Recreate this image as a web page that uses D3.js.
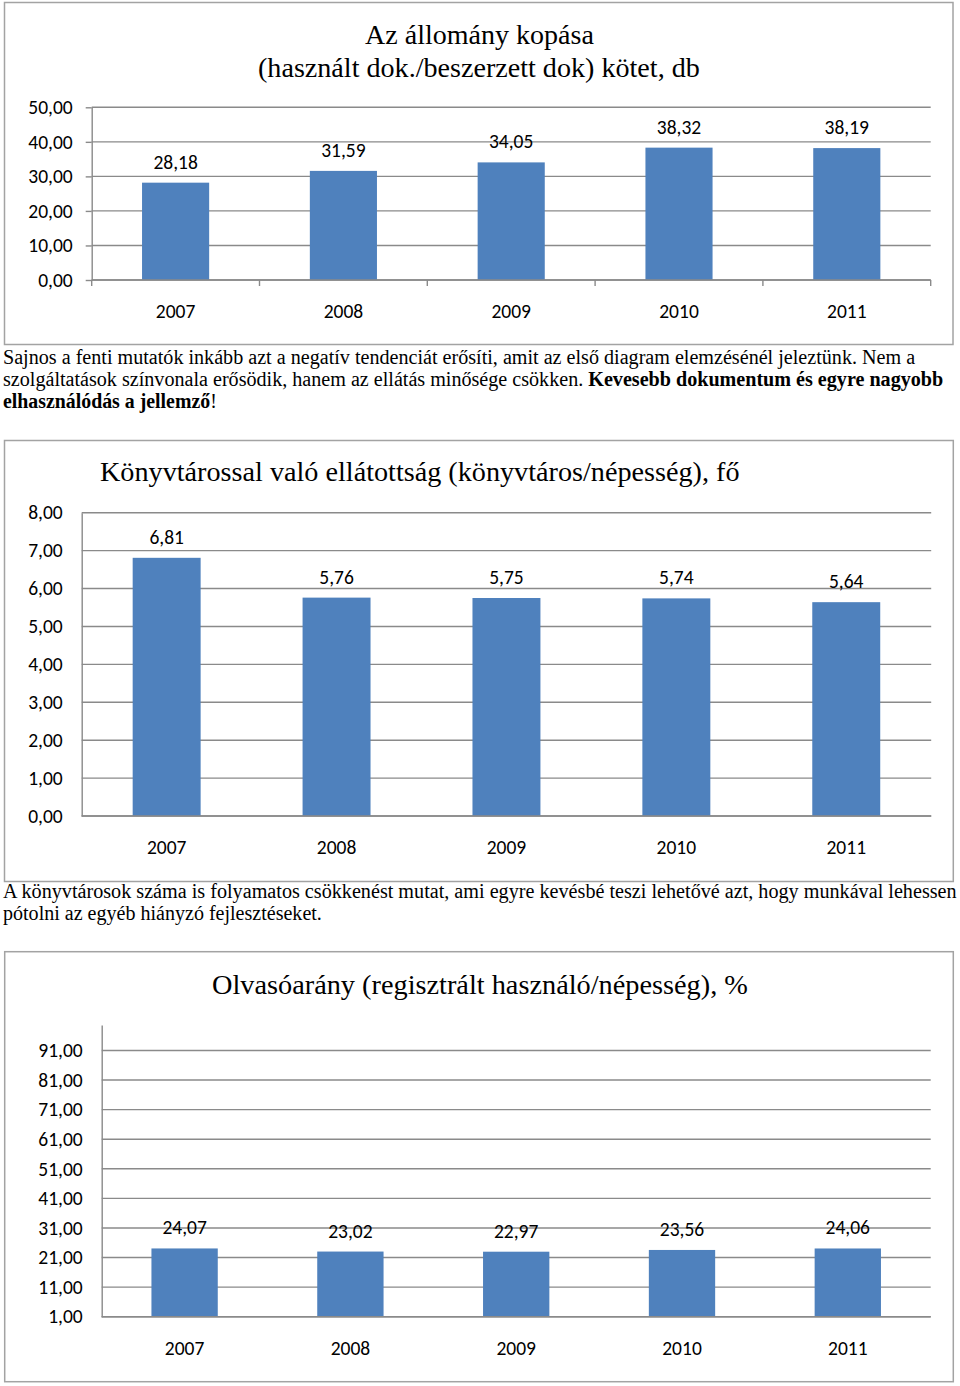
<!DOCTYPE html>
<html>
<head>
<meta charset="utf-8">
<script src="https://cdn.jsdelivr.net/npm/d3@7"></script>
<style>
  html, body { margin: 0; padding: 0; background: #fff; }
  svg { display: block; }
</style>
</head>
<body>
<svg id="page" width="960" height="1386"></svg>
<script>
// ---------- DATA ----------
const years = ["2007", "2008", "2009", "2010", "2011"];
const kopasaValues = [28.18, 31.59, 34.05, 38.32, 38.19];
const ellatottsagValues = [6.81, 5.76, 5.75, 5.74, 5.64];
const olvasoValues = [24.07, 23.02, 22.97, 23.56, 24.06];
const kopasaTicks = [0, 10, 20, 30, 40, 50];
const ellatottsagTicks = [0, 1, 2, 3, 4, 5, 6, 7, 8];
const olvasoTicks = [1, 11, 21, 31, 41, 51, 61, 71, 81, 91];

const title1 = ["Az állomány kopása", "(használt dok./beszerzett dok) kötet, db"];
const title2 = "Könyvtárossal való ellátottság (könyvtáros/népesség), fő";
const title3 = "Olvasóarány (regisztrált használó/népesség), %";

const para1 = [
  [{t: "Sajnos a fenti mutatók inkább azt a negatív tendenciát erősíti, amit az első diagram elemzésénél jeleztünk. Nem a", b: false}],
  [{t: "szolgáltatások színvonala erősödik, hanem az ellátás minősége csökken. ", b: false}, {t: "Kevesebb dokumentum és egyre nagyobb", b: true}],
  [{t: "elhasználódás a jellemző", b: true}, {t: "!", b: false}]
];
const para2 = [
  [{t: "A könyvtárosok száma is folyamatos csökkenést mutat, ami egyre kevésbé teszi lehetővé azt, hogy munkával lehessen", b: false}],
  [{t: "pótolni az egyéb hiányzó fejlesztéseket.", b: false}]
];

// ---------- STYLE ----------
const BAR = "#4F81BD";
const GRID = "#8a8a8a";
const BORDER = "#a3a3a3";
const LABEL_FONT = "Carlito, Lato, sans-serif";
const LABEL_SIZE = 19.5;
const SERIF = "'Liberation Serif', 'Times New Roman', serif";
const huLocale = d3.formatLocale({decimal: ",", thousands: " ", grouping: [3], currency: ["", " Ft"]});
const fmt = huLocale.format(".2f");

const svg = d3.select("#page");

// paragraph line: fixed font size, squeezed horizontally to the target width
function fitLine(parts, x, y, targetW, size) {
  const t = svg.append("text")
    .attr("font-family", SERIF)
    .attr("font-size", size)
    .attr("fill", "#000");
  parts.forEach(p => {
    t.append("tspan").attr("font-weight", p.b ? "bold" : "normal").text(p.t);
  });
  const len = t.node().getComputedTextLength();
  t.attr("transform", `translate(${x},${y}) scale(${targetW / len},1)`);
  return t;
}

// title line: font size chosen so the line spans the target width
function titleLine(str, x, y, targetW) {
  const t = svg.append("text")
    .attr("font-family", SERIF)
    .attr("font-size", 20)
    .attr("fill", "#000")
    .text(str);
  const len = t.node().getComputedTextLength();
  t.attr("font-size", 20 * targetW / len).attr("x", x).attr("y", y);
  return t;
}

function chart(cfg) {
  svg.append("rect")
    .attr("x", cfg.box[0]).attr("y", cfg.box[1])
    .attr("width", cfg.box[2] - cfg.box[0]).attr("height", cfg.box[3] - cfg.box[1])
    .attr("fill", "#fff").attr("stroke", BORDER).attr("stroke-width", 1.5);

  const x = d3.scaleBand().domain(cfg.cats).range([cfg.left, cfg.right]).paddingInner(0).paddingOuter(0);
  const y = d3.scaleLinear().domain(cfg.domain).range([cfg.bottom, cfg.top]);
  const g = svg.append("g");

  // gridlines
  g.append("g").selectAll("line").data(cfg.ticks).join("line")
    .attr("x1", cfg.left).attr("x2", cfg.right)
    .attr("y1", d => y(d)).attr("y2", d => y(d))
    .attr("stroke", GRID).attr("stroke-width", 1.4);

  // y axis
  const yAxis = d3.axisLeft(y).tickValues(cfg.ticks).tickFormat(fmt)
    .tickSizeInner(cfg.yTicks ? 6 : 0).tickSizeOuter(0).tickPadding(cfg.yTicks ? 13 : 19);
  const ya = g.append("g").attr("transform", `translate(${cfg.left},0)`).call(yAxis);
  ya.select(".domain").attr("stroke", GRID).attr("stroke-width", 1.4);
  ya.selectAll(".tick line").attr("stroke", GRID).attr("stroke-width", 1.4);
  ya.selectAll(".tick text").attr("font-family", LABEL_FONT).attr("font-size", LABEL_SIZE).attr("fill", "#000")
    .attr("dy", "0.32em");

  // bars
  const bw = x.bandwidth() * 0.4;
  g.append("g").selectAll("rect").data(cfg.values).join("rect")
    .attr("x", (d, i) => x(cfg.cats[i]) + x.bandwidth() / 2 - bw / 2)
    .attr("width", bw)
    .attr("y", d => y(d))
    .attr("height", d => y(cfg.domain[0]) - y(d))
    .attr("fill", BAR);

  // x axis
  const xAxis = d3.axisBottom(x).tickSize(0).tickPadding(0).tickFormat(d => d);
  const xa = g.append("g").attr("transform", `translate(0,${cfg.bottom})`).call(xAxis);
  xa.select(".domain").remove();
  xa.selectAll(".tick text").attr("font-family", LABEL_FONT).attr("font-size", LABEL_SIZE).attr("fill", "#000")
    .attr("dy", 0).attr("y", 38.3);
  g.append("line").attr("x1", cfg.left).attr("x2", cfg.right)
    .attr("y1", cfg.bottom).attr("y2", cfg.bottom)
    .attr("stroke", GRID).attr("stroke-width", 1.4);
  if (cfg.xTicks) {
    const bounds = cfg.cats.map(c => x(c)).concat([x(cfg.cats[cfg.cats.length - 1]) + x.bandwidth()]);
    g.append("g").selectAll("line").data(bounds).join("line")
      .attr("x1", d => d).attr("x2", d => d)
      .attr("y1", cfg.bottom).attr("y2", cfg.bottom + 6)
      .attr("stroke", GRID).attr("stroke-width", 1.4);
  }

  // data labels
  g.append("g").selectAll("text").data(cfg.values).join("text")
    .attr("x", (d, i) => x(cfg.cats[i]) + x.bandwidth() / 2)
    .attr("y", d => y(d) - 14)
    .attr("text-anchor", "middle")
    .attr("font-family", LABEL_FONT).attr("font-size", LABEL_SIZE).attr("fill", "#000")
    .text(d => fmt(d));
}

// ---------- CHART 1 ----------
chart({
  box: [4.5, 2.5, 953, 344.5],
  cats: years, values: kopasaValues, ticks: kopasaTicks,
  domain: [0, 50], left: 91.7, right: 930.7, top: 107.3, bottom: 280,
  yTicks: true, xTicks: true
});
titleLine(title1[0], 365, 43.5, 229);
titleLine(title1[1], 258, 76.5, 442);

// paragraph 1
fitLine(para1[0], 3, 363.5, 913, 20);
fitLine(para1[1], 3, 385.7, 941, 20);
fitLine(para1[2], 3, 407.5, 214, 20);

// ---------- CHART 2 ----------
chart({
  box: [4.5, 440.5, 953.3, 881.5],
  cats: years, values: ellatottsagValues, ticks: ellatottsagTicks,
  domain: [0, 8], left: 81.7, right: 931.2, top: 512.7, bottom: 816,
  yTicks: false, xTicks: false
});
titleLine(title2, 100, 480.5, 640);

// paragraph 2
fitLine(para2[0], 3, 898.3, 954, 20);
fitLine(para2[1], 3, 920.2, 319, 20);

// ---------- CHART 3 ----------
chart({
  box: [4.7, 951.7, 953.3, 1381.7],
  cats: years, values: olvasoValues, ticks: olvasoTicks,
  domain: [1, 99.6], left: 101.7, right: 930.7, top: 1025, bottom: 1316.7,
  yTicks: false, xTicks: false
});
titleLine(title3, 212, 993.5, 536);
</script>
</body>
</html>
